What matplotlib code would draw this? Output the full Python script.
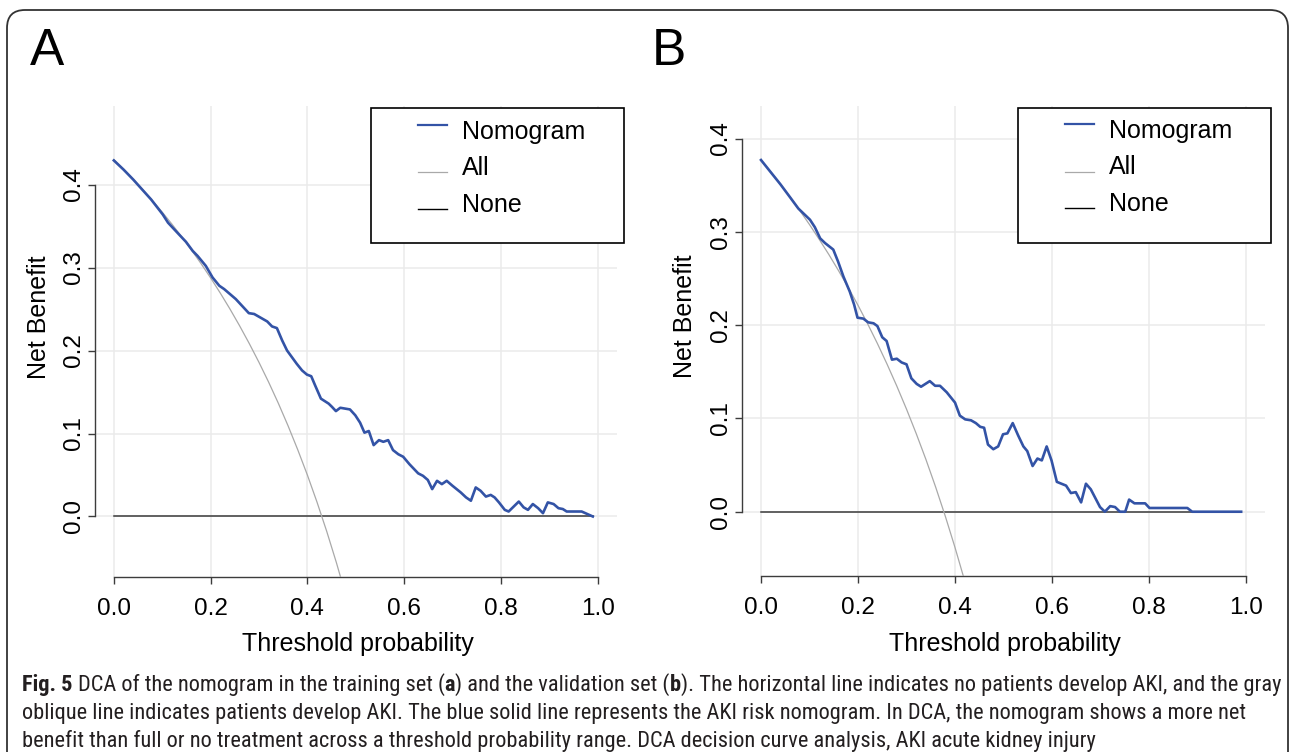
import os
import numpy as np
import matplotlib
matplotlib.use('Agg')
import matplotlib.pyplot as plt
from matplotlib.transforms import Affine2D, IdentityTransform
from matplotlib.patches import FancyBboxPatch, Rectangle
from matplotlib.lines import Line2D
from matplotlib import font_manager as fm
from matplotlib.font_manager import FontProperties

# ---------------- data ----------------
x_ticks = [0.0, 0.2, 0.4, 0.6, 0.8, 1.0]
y_ticks = [0.0, 0.1, 0.2, 0.3, 0.4]
x_tick_labels = ["0.0", "0.2", "0.4", "0.6", "0.8", "1.0"]
y_tick_labels = ["0.0", "0.1", "0.2", "0.3", "0.4"]
legend_labels = ["Nomogram", "All", "None"]

# Panel A (training set)
a_thr = [0.000, 0.020, 0.040, 0.060, 0.077, 0.101, 0.112, 0.136, 0.149, 0.163, 0.173, 0.190,
         0.204, 0.218, 0.228, 0.252, 0.279, 0.290, 0.317, 0.327, 0.337, 0.348, 0.358, 0.368,
         0.378, 0.389, 0.399, 0.408, 0.416, 0.428, 0.444, 0.451, 0.459, 0.468, 0.488, 0.499,
         0.509, 0.518, 0.527, 0.537, 0.548, 0.557, 0.567, 0.577, 0.588, 0.598, 0.611, 0.629,
         0.639, 0.649, 0.658, 0.668, 0.678, 0.688, 0.700, 0.717, 0.728, 0.738, 0.748, 0.758,
         0.769, 0.779, 0.787, 0.796, 0.808, 0.816, 0.837, 0.847, 0.856, 0.866, 0.877, 0.887,
         0.897, 0.909, 0.919, 0.928, 0.936, 0.967, 0.990]
a_nomogram = [0.429, 0.418, 0.406, 0.393, 0.382, 0.364, 0.354, 0.339, 0.331, 0.320, 0.314, 0.302,
              0.288, 0.278, 0.274, 0.262, 0.245, 0.244, 0.235, 0.229, 0.227, 0.212, 0.200, 0.192,
              0.184, 0.176, 0.171, 0.169, 0.158, 0.142, 0.136, 0.132, 0.127, 0.131, 0.129, 0.122,
              0.113, 0.101, 0.103, 0.086, 0.092, 0.090, 0.092, 0.080, 0.075, 0.072, 0.063, 0.052,
              0.049, 0.044, 0.033, 0.043, 0.039, 0.043, 0.037, 0.029, 0.023, 0.019, 0.035, 0.031,
              0.024, 0.026, 0.023, 0.017, 0.008, 0.006, 0.018, 0.011, 0.008, 0.015, 0.010, 0.004,
              0.017, 0.015, 0.010, 0.009, 0.006, 0.006, 0.000]
a_all_thr = [0.00, 0.02, 0.04, 0.06, 0.08, 0.10, 0.12, 0.14, 0.16, 0.18, 0.20, 0.22, 0.24,
             0.26, 0.28, 0.30, 0.32, 0.34, 0.36, 0.38, 0.40, 0.42, 0.44, 0.46, 0.48]
a_all = [0.4300, 0.4184, 0.4063, 0.3936, 0.3804, 0.3667, 0.3523, 0.3372, 0.3214, 0.3049,
         0.2875, 0.2692, 0.2500, 0.2297, 0.2083, 0.1857, 0.1618, 0.1364, 0.1094, 0.0806,
         0.0500, 0.0172, -0.0179, -0.0556, -0.0962]
a_none_thr = [0.0, 0.99]
a_none = [0.0, 0.0]

# Panel B (validation set)
b_thr = [0.000, 0.020, 0.040, 0.060, 0.077, 0.091, 0.101, 0.111, 0.122, 0.132, 0.149, 0.159,
         0.170, 0.183, 0.192, 0.199, 0.211, 0.221, 0.232, 0.240, 0.250, 0.259, 0.270, 0.280,
         0.290, 0.300, 0.310, 0.321, 0.330, 0.348, 0.359, 0.369, 0.383, 0.400, 0.410, 0.421,
         0.433, 0.443, 0.452, 0.460, 0.468, 0.479, 0.489, 0.499, 0.508, 0.519, 0.530, 0.541,
         0.549, 0.560, 0.570, 0.579, 0.589, 0.599, 0.610, 0.629, 0.639, 0.649, 0.660, 0.670,
         0.680, 0.699, 0.709, 0.720, 0.730, 0.740, 0.751, 0.759, 0.770, 0.792, 0.801, 0.879,
         0.889, 0.990]
b_nomogram = [0.377, 0.364, 0.351, 0.337, 0.325, 0.318, 0.313, 0.305, 0.293, 0.288, 0.281, 0.268,
              0.252, 0.236, 0.222, 0.208, 0.207, 0.203, 0.202, 0.199, 0.187, 0.183, 0.163, 0.164,
              0.160, 0.158, 0.143, 0.137, 0.134, 0.140, 0.135, 0.135, 0.128, 0.117, 0.103, 0.099,
              0.098, 0.095, 0.091, 0.090, 0.072, 0.067, 0.070, 0.083, 0.084, 0.095, 0.082, 0.070,
              0.065, 0.049, 0.057, 0.055, 0.070, 0.055, 0.032, 0.028, 0.020, 0.021, 0.010, 0.030,
              0.024, 0.005, 0.000, 0.006, 0.005, 0.000, 0.000, 0.013, 0.009, 0.009, 0.004, 0.004,
              0.000, 0.000]
b_all_thr = [0.00, 0.02, 0.04, 0.06, 0.08, 0.10, 0.12, 0.14, 0.16, 0.18, 0.20, 0.22, 0.24,
             0.26, 0.28, 0.30, 0.32, 0.34, 0.36, 0.38, 0.40, 0.42, 0.44]
b_all = [0.3770, 0.3643, 0.3510, 0.3372, 0.3228, 0.3078, 0.2920, 0.2756, 0.2583, 0.2402,
         0.2213, 0.2013, 0.1803, 0.1581, 0.1347, 0.1100, 0.0838, 0.0561, 0.0266, -0.0048,
         -0.0383, -0.0741, -0.1125]
b_none_thr = [0.0, 0.99]
b_none = [0.0, 0.0]

caption_lines = [
    [("Fig. 5", True), (" DCA of the nomogram in the training set (", False), ("a", True),
     (") and the validation set (", False), ("b", True),
     ("). The horizontal line indicates no patients develop AKI, and the gray", False)],
    [("oblique line indicates patients develop AKI. The blue solid line represents the AKI risk "
      "nomogram. In DCA, the nomogram shows a more net", False)],
    [("benefit than full or no treatment across a threshold probability range. DCA decision "
      "curve analysis, AKI acute kidney injury", False)],
]

# ---------------- style ----------------
BLUE = '#3353a6'
GRAY = '#a9a9a9'
NONE_C = '#3a3a3a'
GRID = '#ebebeb'
AXC = '#3c3c3c'

plt.rcParams['font.family'] = ['Liberation Sans', 'DejaVu Sans']

W, H = 1290, 752
fig = plt.figure(figsize=(W / 100, H / 100), dpi=100)
fig.patch.set_facecolor('white')
PX = Affine2D().scale(1, -1).translate(0, H)  # image pixel coords (y down) -> display


def make_panel(left, right, top, bottom, ylim, thr, nomo, all_thr, all_nb, none_thr, none_nb):
    ax = fig.add_axes([left / W, 1 - bottom / H, (right - left) / W, (bottom - top) / H])
    ax.set_xlim(-0.04, 1.04)
    ax.set_ylim(*ylim)
    ax.set_xticks(x_ticks)
    ax.set_yticks(y_ticks)
    ax.set_xticklabels(x_tick_labels)
    ax.set_yticklabels(y_tick_labels, rotation=90, va='center')
    ax.grid(True, color=GRID, lw=1.1)
    ax.set_axisbelow(True)
    for s in ['top', 'right']:
        ax.spines[s].set_visible(False)
    ax.spines['left'].set_bounds(0, 0.4)
    ax.spines['bottom'].set_bounds(0, 1)
    for s in ['left', 'bottom']:
        ax.spines[s].set_color(AXC)
        ax.spines[s].set_linewidth(1.0)
    ax.tick_params(axis='both', direction='out', length=5, width=1.0, color=AXC,
                   labelsize=17.5, labelcolor='black')
    ax.tick_params(axis='x', pad=10.3)
    ax.tick_params(axis='y', pad=1.6)
    ax.plot(none_thr, none_nb, color=NONE_C, lw=1.1, zorder=3)
    ax.plot(all_thr, all_nb, color=GRAY, lw=0.9, zorder=4)
    ax.plot(thr, nomo, color=BLUE, lw=1.9, zorder=5, solid_joinstyle='round')
    return ax


axA = make_panel(94.5, 617.0, 106, 577, (-0.0729, 0.4946),
                 a_thr, a_nomogram, a_all_thr, a_all, a_none_thr, a_none)
axB = make_panel(741.6, 1265.4, 106, 576, (-0.0689, 0.4349),
                 b_thr, b_nomogram, b_all_thr, b_all, b_none_thr, b_none)

# axis titles
fig.text(357.5, 644, 'Threshold probability', transform=PX, ha='center', va='center', fontsize=18)
fig.text(1004.5, 644, 'Threshold probability', transform=PX, ha='center', va='center', fontsize=18)
fig.text(38.5, 317, 'Net Benefit', transform=PX, ha='center', va='center', rotation=90, fontsize=18)
fig.text(684.5, 316, 'Net Benefit', transform=PX, ha='center', va='center', rotation=90, fontsize=18)

# panel letters
fig.text(30, 65, 'A', transform=PX, ha='left', va='baseline', fontsize=37)
fig.text(652, 65, 'B', transform=PX, ha='left', va='baseline', fontsize=37)


# legends
def draw_legend(bx, by):
    bw, bh = 253, 135
    fig.add_artist(Rectangle((bx, by), bw, bh, transform=PX, fill=True, fc='white',
                             ec='black', lw=1.2, zorder=10))
    line_off = [16.5, 64.0, 100.2]
    text_off = [30.2, 67.0, 103.3]
    cols = [BLUE, GRAY, 'black']
    lws = [1.6, 0.9, 1.0]
    for lab, lo, to, c, lw in zip(legend_labels, line_off, text_off, cols, lws):
        fig.add_artist(Line2D([bx + 47.5, bx + 76.5], [by + lo, by + lo], transform=PX,
                              color=c, lw=lw, zorder=11))
        fig.text(bx + 91.5, by + to, lab, transform=PX, ha='left', va='baseline',
                 fontsize=18, zorder=12)


draw_legend(370.7, 108.3)
draw_legend(1017.5, 107.5)

# outer rounded frame
fig.add_artist(FancyBboxPatch((7, -48), 1281, 790, boxstyle='round,pad=0,rounding_size=18',
                              transform=IdentityTransform(), fill=False, ec='#333333', lw=1.3,
                              zorder=0))


# ---------------- caption ----------------
def _weight(e):
    w = e.weight
    if isinstance(w, str):
        w = fm.weight_dict.get(w, 400)
    return int(w)


def pick_caption_fonts():
    cands = []
    for e in fm.fontManager.ttflist:
        tag = (e.name + ' ' + os.path.basename(e.fname)).lower()
        if ('narrow' in tag or 'condensed' in tag) and e.style == 'normal' \
                and 'semi' not in tag and 'extra' not in tag and 'ultra' not in tag \
                and 'light' not in tag and 'italic' not in tag and 'oblique' not in tag:
            cands.append((tag, e))
    for pref in ['liberation', 'open', 'roboto', 'noto', 'dejavu', '']:
        group = [e for tag, e in cands if pref in tag]
        regs = [e for e in group if 350 <= _weight(e) <= 500]
        bolds = [e for e in group if _weight(e) >= 600]
        if regs:
            reg = min(regs, key=lambda e: abs(_weight(e) - 400))
            bold = min(bolds, key=lambda e: abs(_weight(e) - 700)) if bolds else reg
            return FontProperties(fname=reg.fname), FontProperties(fname=bold.fname)
    return FontProperties(family='Liberation Sans'), FontProperties(family='Liberation Sans',
                                                                      weight='bold')


fp_reg, fp_bold = pick_caption_fonts()
renderer = fig.canvas.get_renderer()


def seg_width(s, fp, size):
    f = fp.copy()
    f.set_size(size)
    w1 = renderer.get_text_width_height_descent('|' + s + '|', f, ismath=False)[0]
    w2 = renderer.get_text_width_height_descent('||', f, ismath=False)[0]
    return w1 - w2


ref = 10.0
w_ref = sum(seg_width(s, fp_bold if b else fp_reg, ref) for s, b in caption_lines[0])
cap_size = ref * (1272 - 22) / w_ref

baselines = [691, 719, 747]
for line, yb in zip(caption_lines, baselines):
    x = 22.0
    for s, b in line:
        fp = (fp_bold if b else fp_reg).copy()
        fp.set_size(cap_size)
        lead = len(s) - len(s.lstrip(' '))
        xd = x + (seg_width(' ' * lead, fp, cap_size) if lead else 0.0)
        fig.text(xd, yb, s.strip(' '), transform=PX, ha='left', va='baseline',
                 fontproperties=fp, color='#231f20')
        x += seg_width(s, fp, cap_size)

fig.savefig('out.png', dpi=100, facecolor='white')
